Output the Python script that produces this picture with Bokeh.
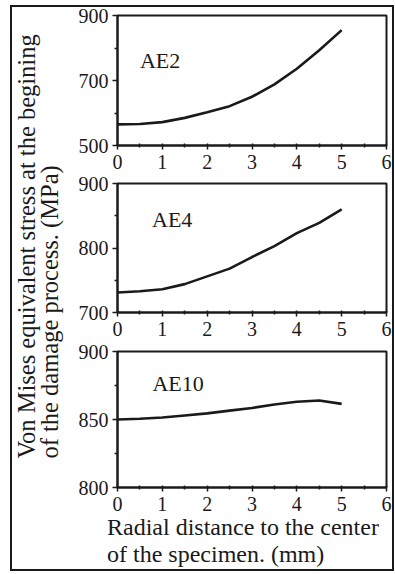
import math
from bokeh.plotting import figure
from bokeh.models import FixedTicker, Range1d, Label, Div
from bokeh.layouts import row, column
from bokeh.embed import file_html
from bokeh.resources import INLINE

# ---- data ----
radius_mm = [0, 0.5, 1, 1.5, 2, 2.5, 3, 3.5, 4, 4.5, 5]
stress_ae2 = [565, 566, 572, 585, 602, 621, 650, 688, 736, 793, 855]
stress_ae4 = [731, 733, 736, 744, 756, 768, 786, 803, 823, 839, 860]
stress_ae10 = [850, 850.5, 851.5, 853, 854.5, 856.5, 858.5, 861, 863, 864, 861.5]

x_ticks = [0, 1, 2, 3, 4, 5, 6]
x_minor_ticks = [0.5, 1.5, 2.5, 3.5, 4.5, 5.5]
ae2_ticks = [500, 700, 900]
ae2_minor = [600, 800]
ae4_ticks = [700, 800, 900]
ae4_minor = [750, 850]
ae10_ticks = [800, 850, 900]
ae10_minor = [825, 875]

y_title = ["Von Mises equivalent stress at the begining",
           "of the damage process. (MPa)"]
x_title = ["Radial distance to the center", "of the specimen. (mm)"]

INK = "#1a1a1a"
FONT = "Liberation Serif"
PW = 324          # width of the panel column
BL, BR = 49, 6    # panel borders left / right


def panel(ys, yr, ticks, minor, name, lx, ly, h, top, bottom):
    p = figure(width=PW, height=h, x_range=Range1d(0, 6), y_range=Range1d(*yr),
               output_backend="svg", toolbar_location=None,
               min_border_left=BL, min_border_right=BR,
               min_border_top=top, min_border_bottom=bottom)
    p.line(radius_mm, ys, line_width=2.6, line_color=INK)
    p.add_layout(Label(x=lx, y=ly, text=name, text_font=FONT,
                       text_font_size="22px", text_color=INK,
                       text_baseline="alphabetic"))
    p.xaxis.ticker = FixedTicker(ticks=x_ticks, minor_ticks=x_minor_ticks)
    p.yaxis.ticker = FixedTicker(ticks=ticks, minor_ticks=minor)
    p.grid.visible = False
    p.outline_line_color = INK
    p.outline_line_width = 2
    p.outline_line_alpha = 1
    for ax in (p.xaxis[0], p.yaxis[0]):
        ax.axis_line_width = 2
        ax.axis_line_color = INK
        ax.major_tick_line_color = INK
        ax.minor_tick_line_color = INK
        ax.major_tick_line_width = 1.5
        ax.minor_tick_line_width = 1.5
        ax.major_label_text_font = FONT
        ax.major_label_text_font_size = "20px"
        ax.major_label_text_color = INK
    p.xaxis.major_tick_out = 4
    p.xaxis.major_tick_in = 2
    p.xaxis.minor_tick_out = 2
    p.xaxis.minor_tick_in = 2
    p.xaxis.major_label_standoff = 5
    p.yaxis.major_tick_out = 5
    p.yaxis.major_tick_in = 0
    p.yaxis.minor_tick_out = 3
    p.yaxis.minor_tick_in = 0
    p.yaxis.major_label_standoff = 4
    return p


p1 = panel(stress_ae2, (500, 900), ae2_ticks, ae2_minor, "AE2", 0.5, 763, 169, 8, 31)
p2 = panel(stress_ae4, (700, 900), ae4_ticks, ae4_minor, "AE4", 0.77, 844, 167, 7, 31)
p3 = panel(stress_ae10, (800, 900), ae10_ticks, ae10_minor, "AE10", 0.78, 876.5, 175, 8, 31)

# y title column (a blank figure whose data units equal pixels)
yfig = figure(width=56, height=562, x_range=Range1d(0, 56), y_range=Range1d(0, 562),
              output_backend="svg", toolbar_location=None,
              min_border_left=0, min_border_right=0, min_border_top=0,
              min_border_bottom=0, x_axis_location=None, y_axis_location=None)
yfig.grid.visible = False
yfig.outline_line_color = None
for tx, bx in zip(y_title, [14, 37]):
    yfig.add_layout(Label(x=bx, y=111, text=tx, angle=math.pi / 2,
                          text_font=FONT, text_font_size="24.5px", text_color=INK,
                          text_align="left", text_baseline="alphabetic"))

# x title block
xdiv = Div(text="<div style=\"font-family:'Liberation Serif';font-size:24px;"
                "line-height:27px;color:#1a1a1a;padding-left:39px;"
                "white-space:nowrap;margin:-4px 0 0 0\">" + "<br>".join(x_title) + "</div>",
           width=PW, height=51, margin=(0, 0, 0, 0))

layout = row(yfig, column(p1, p2, p3, xdiv))
layout.styles = {"margin-left": "12px", "margin-top": "7px",
                 "outline": "2px solid #1a1a1a"}

open("out.html", "w").write(file_html(layout, INLINE))
